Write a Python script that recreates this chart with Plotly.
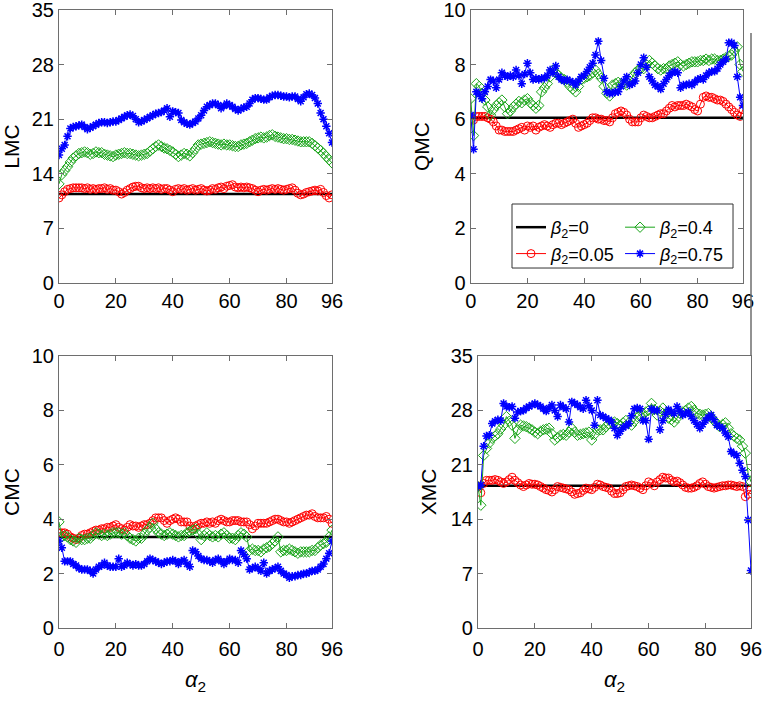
import plotly.graph_objects as go
from plotly.subplots import make_subplots

# alpha_2 values (x axis) and the beta_2 = 0 reference lines
alpha2 = list(range(97))
ref_x = [0, 96]

lmc_b0 = [11.4, 11.4]
lmc_b005 = [10.9, 11.3, 11.7, 12.0, 12.1, 12.2, 12.2, 12.2, 12.2, 12.1,
            12.2, 12.0, 12.1, 12.0, 12.1, 12.1, 12.2, 12.0, 12.1, 11.9,
            11.9, 11.7, 11.4, 11.6, 11.9, 12.1, 12.3, 12.4, 12.4, 12.2,
            12.1, 12.2, 12.1, 12.2, 12.1, 12.2, 12.0, 12.1, 12.1, 11.9,
            11.7, 12.0, 12.1, 12.0, 12.1, 11.9, 12.0, 12.1, 11.9, 12.0,
            12.1, 11.9, 11.8, 11.9, 12.1, 12.0, 12.2, 12.3, 12.1, 12.4,
            12.5, 12.6, 12.3, 12.2, 12.3, 12.2, 12.3, 12.2, 12.1, 11.9,
            11.7, 11.9, 12.0, 11.9, 12.0, 12.1, 12.0, 12.1, 12.0, 11.9,
            12.0, 12.1, 12.2, 11.9, 11.5, 11.3, 11.4, 11.6, 11.7, 11.8,
            11.9, 11.8, 12.0, 11.6, 11.2, 10.9, 11.3]
lmc_b04 = [12.7, 13.9, 14.4, 14.9, 15.5, 16.0, 16.3, 16.6, 16.7, 16.8,
           16.7, 16.5, 16.6, 16.8, 16.7, 16.7, 16.5, 16.4, 16.3, 16.2,
           16.4, 16.5, 16.6, 16.7, 16.6, 16.6, 16.5, 16.4, 16.3, 16.4,
           16.5, 16.6, 16.9, 17.2, 17.5, 17.7, 17.5, 17.3, 17.2, 17.0,
           16.8, 16.5, 16.2, 16.4, 16.6, 16.5, 16.3, 16.7, 17.2, 17.7,
           17.8, 17.9, 18.0, 18.1, 18.0, 17.9, 17.8, 17.7, 17.8, 17.7,
           17.7, 17.6, 17.5, 17.5, 17.7, 17.8, 17.9, 18.1, 18.3, 18.5,
           18.6, 18.7, 18.6, 18.7, 18.9, 19.0, 18.8, 18.7, 18.6, 18.5,
           18.5, 18.4, 18.4, 18.3, 18.2, 18.1, 18.1, 18.1, 18.1, 17.9,
           17.6, 17.3, 17.0, 16.6, 16.2, 15.8, 15.4]
lmc_b075 = [16.4, 17.2, 17.7, 18.8, 19.8, 20.0, 20.1, 20.2, 20.3, 20.0,
            19.7, 19.9, 20.1, 20.3, 20.5, 20.6, 20.6, 20.5, 20.6, 20.7,
            20.7, 20.9, 21.1, 21.3, 21.5, 21.6, 21.4, 21.0, 20.6, 20.7,
            20.9, 21.1, 21.3, 21.5, 21.7, 21.8, 21.9, 22.1, 22.4, 21.3,
            22.0, 21.9, 21.8, 20.9, 20.6, 20.4, 20.3, 20.5, 20.7, 21.1,
            21.5, 22.1, 22.6, 22.8, 23.0, 23.0, 22.8, 22.4, 22.7, 23.0,
            22.8, 22.6, 22.3, 22.1, 22.3, 22.5, 22.6, 23.0, 23.5, 23.7,
            23.7, 23.6, 23.5, 23.5, 23.8, 24.0, 24.1, 24.1, 24.0, 23.9,
            23.9, 23.8, 23.9, 23.9, 23.6, 23.3, 23.8, 24.2, 24.3, 24.1,
            23.7, 23.0, 21.8, 21.0, 20.1, 19.2, 18.0]

qmc_b0 = [6.05, 6.05]
qmc_b005 = [6.0, 5.97, 6.1, 6.1, 6.1, 6.1, 6.05, 6.0, 5.9, 5.75,
            5.6, 5.6, 5.55, 5.55, 5.55, 5.55, 5.6, 5.65, 5.7, 5.6,
            5.75, 5.7, 5.75, 5.6, 5.7, 5.75, 5.8, 5.75, 5.7, 5.8,
            5.85, 5.85, 5.8, 5.85, 5.9, 5.95, 6.0, 5.85, 5.7, 5.75,
            5.8, 5.85, 5.95, 6.05, 6.05, 6.0, 6.0, 5.95, 5.95, 5.9,
            6.05, 6.2, 6.25, 6.3, 6.25, 6.15, 6.0, 5.9, 5.9, 5.9,
            6.05, 6.15, 6.1, 6.05, 6.05, 6.1, 6.15, 6.2, 6.2, 6.3,
            6.4, 6.5, 6.45, 6.5, 6.5, 6.5, 6.55, 6.5, 6.45, 6.35,
            6.3, 6.55, 6.8, 6.85, 6.8, 6.8, 6.75, 6.7, 6.7, 6.65,
            6.55, 6.45, 6.35, 6.25, 6.15, 6.1, 6.35]
qmc_b04 = [6.75, 5.4, 7.3, 7.2, 6.95, 6.7, 6.45, 6.15, 6.35, 6.5,
           6.6, 6.7, 6.45, 6.2, 6.3, 6.45, 6.55, 6.65, 6.6, 6.7,
           6.75, 6.6, 6.5, 6.4, 6.5, 7.0, 7.15, 7.3, 7.55, 7.8,
           7.7, 7.6, 7.5, 7.45, 7.35, 7.2, 7.1, 7.0, 7.2, 7.45,
           7.5, 7.55, 7.6, 7.7, 7.8, 7.65, 7.5, 7.2, 6.95, 6.85,
           7.25, 7.3, 7.35, 7.3, 7.3, 7.25, 7.4, 7.55, 7.7, 7.8,
           7.85, 7.85, 8.0, 8.15, 8.05, 7.95, 7.85, 7.8, 7.85, 7.85,
           7.95, 8.0, 8.05, 8.1, 8.0, 7.95, 8.0, 8.05, 8.1, 8.1,
           8.1, 8.15, 8.15, 8.2, 8.15, 8.2, 8.2, 8.15, 8.15, 8.2,
           8.25, 8.3, 8.35, 8.5, 8.65, 8.0, 7.75]
qmc_b075 = [6.15, 4.9, 7.0, 6.9, 6.75, 7.0, 7.2, 7.45, 7.4, 7.15,
            7.45, 7.7, 7.6, 7.55, 7.6, 7.55, 7.8, 7.6, 7.3, 7.65,
            8.05, 7.7, 7.45, 7.5, 7.45, 7.5, 7.5, 7.6, 7.8, 7.7,
            7.95, 7.55, 7.45, 7.4, 7.45, 7.4, 7.35, 7.25, 7.4, 7.55,
            7.6, 7.75, 7.9, 8.05, 8.35, 8.85, 8.15, 7.5, 7.0, 6.95,
            6.95, 7.0, 7.0, 7.2, 7.4, 7.55, 7.25, 7.3, 7.4, 7.7,
            8.0, 8.25, 7.9, 7.55, 7.4, 7.25, 7.2, 7.1, 7.3, 7.45,
            7.6, 7.7, 7.75, 7.7, 7.15, 7.25, 7.25, 7.3, 7.25, 7.35,
            7.45, 7.5, 7.45, 7.6, 7.7, 7.75, 7.75, 7.85, 8.0, 8.1,
            8.2, 8.8, 8.8, 8.7, 7.55, 6.8, 6.5]

cmc_b0 = [3.35, 3.35]
cmc_b005 = [3.5, 3.5, 3.5, 3.45, 3.35, 3.3, 3.25, 3.3, 3.4, 3.45,
            3.45, 3.5, 3.55, 3.6, 3.6, 3.65, 3.65, 3.7, 3.7, 3.75,
            3.8, 3.7, 3.65, 3.6, 3.7, 3.8, 3.75, 3.75, 3.7, 3.75,
            3.8, 3.8, 3.85, 3.95, 4.05, 4.05, 4.05, 3.95, 3.85, 3.95,
            4.0, 4.05, 4.0, 3.9, 3.9, 3.9, 3.75, 3.65, 3.75, 3.8,
            3.85, 3.85, 3.9, 3.85, 3.9, 3.85, 3.95, 4.0, 3.95, 3.9,
            3.9, 3.95, 3.95, 3.95, 3.9, 3.9, 3.9, 3.8, 3.65, 3.75,
            3.85, 3.85, 3.85, 3.85, 3.9, 3.95, 4.0, 4.0, 3.95, 3.9,
            3.9, 3.85, 3.9, 3.95, 4.0, 4.05, 4.1, 4.15, 4.15, 4.2,
            4.1, 4.05, 4.05, 4.05, 4.1, 4.0, 3.85]
cmc_b04 = [3.9, 3.35, 3.4, 3.35, 3.25, 3.2, 3.15, 3.3, 3.25, 3.25,
           3.3, 3.3, 3.4, 3.5, 3.45, 3.4, 3.45, 3.4, 3.45, 3.5,
           3.5, 3.5, 3.45, 3.5, 3.4, 3.3, 3.25, 3.2, 3.3, 3.3,
           3.45, 3.6, 3.7, 3.85, 3.65, 3.5, 3.45, 3.4, 3.45, 3.5,
           3.45, 3.4, 3.35, 3.4, 3.4, 3.5, 3.55, 3.6, 3.65, 3.45,
           3.25, 3.4, 3.5, 3.4, 3.35, 3.4, 3.35, 3.45, 3.5, 3.4,
           3.3, 3.3, 3.25, 3.4, 3.5, 3.45, 3.35, 2.85, 2.9, 2.85,
           2.85, 2.8, 2.9, 2.95, 3.0, 3.1, 3.2, 3.35, 2.8, 2.85,
           2.85, 2.9, 2.85, 2.8, 2.75, 2.8, 2.8, 2.8, 2.8, 2.85,
           2.85, 2.95, 3.05, 3.1, 3.15, 3.35, 3.6]
cmc_b075 = [3.2, 2.95, 2.45, 2.45, 2.45, 2.35, 2.3, 2.2, 2.15, 2.15,
            2.15, 2.1, 2.0, 2.15, 2.25, 2.3, 2.4, 2.3, 2.25, 2.25,
            2.25, 2.55, 2.25, 2.3, 2.4, 2.35, 2.3, 2.35, 2.3, 2.3,
            2.35, 2.45, 2.55, 2.5, 2.45, 2.4, 2.35, 2.4, 2.45, 2.45,
            2.5, 2.45, 2.35, 2.45, 2.5, 2.35, 2.25, 2.85, 2.8, 2.65,
            2.55, 2.5, 2.5, 2.45, 2.4, 2.5, 2.55, 2.45, 2.35, 2.45,
            2.55, 2.5, 2.5, 2.4, 2.85, 2.7, 2.55, 2.15, 2.2, 2.25,
            2.2, 2.1, 2.4, 2.0, 2.1, 2.15, 2.2, 2.25, 2.1, 2.0,
            1.95, 1.85, 1.9, 1.9, 1.95, 1.95, 2.0, 2.0, 2.05, 2.1,
            2.1, 2.15, 2.25, 2.35, 2.55, 2.75, 3.2]

xmc_b0 = [18.3, 18.3]
xmc_b005 = [18.2, 17.4, 18.6, 19.0, 19.0, 19.0, 19.1, 19.0, 18.8, 18.6,
            18.8, 19.1, 19.4, 19.0, 18.7, 18.4, 18.2, 18.4, 18.6, 18.5,
            18.5, 18.4, 18.2, 18.0, 17.8, 17.7, 17.5, 17.8, 18.2, 18.1,
            18.0, 17.9, 17.8, 17.5, 17.2, 17.3, 17.4, 17.7, 18.0, 17.9,
            17.8, 18.1, 18.5, 18.4, 18.2, 18.1, 18.0, 17.6, 17.3, 17.3,
            17.4, 17.8, 18.2, 18.3, 18.4, 18.3, 18.2, 18.0, 17.8, 18.3,
            18.8, 18.6, 18.3, 18.8, 19.1, 19.4, 19.3, 19.3, 19.0, 18.8,
            18.9, 18.7, 18.4, 18.1, 18.0, 18.0, 18.1, 18.3, 18.6, 18.8,
            18.5, 18.2, 18.1, 18.0, 18.1, 18.2, 18.3, 18.3, 18.4, 18.4,
            18.3, 18.2, 18.3, 18.2, 16.9, 17.2, 17.8]
xmc_b04 = [18.2, 15.8, 22.2, 23.1, 23.8, 24.4, 24.7, 25.0, 25.6, 26.1,
           27.2, 26.6, 26.1, 24.4, 25.5, 26.1, 26.0, 25.9, 25.7, 25.5,
           25.2, 25.0, 25.3, 25.5, 25.6, 25.7, 25.0, 24.2, 24.5, 24.8,
           24.9, 24.8, 25.2, 25.7, 25.2, 24.8, 24.9, 25.0, 25.1, 25.2,
           24.2, 24.9, 25.5, 25.5, 25.5, 25.9, 26.3, 26.4, 26.5, 26.3,
           26.1, 26.4, 26.7, 26.4, 26.1, 26.6, 27.2, 27.4, 27.6, 27.8,
           28.0, 28.9, 28.1, 27.4, 27.9, 28.3, 27.6, 27.0, 26.8, 26.5,
           27.0, 27.6, 27.8, 28.0, 28.3, 28.5, 28.0, 27.6, 27.5, 27.4,
           27.5, 27.6, 27.1, 26.7, 26.3, 25.9, 26.2, 26.4, 25.7, 25.0,
           24.7, 24.4, 24.2, 23.4, 22.5, 19.9, 18.8]
xmc_b075 = [18.2, 18.4, 23.4, 24.7, 24.8, 26.3, 26.6, 26.8, 26.7, 28.9,
            28.5, 28.4, 28.5, 27.0, 27.8, 27.9, 28.0, 28.3, 28.5, 28.7,
            28.9, 28.7, 28.5, 28.2, 27.9, 28.3, 28.7, 28.0, 27.2, 28.7,
            28.4, 28.2, 26.5, 29.1, 28.9, 28.7, 28.4, 28.2, 29.3, 28.6,
            28.0, 26.1, 29.3, 27.4, 27.2, 27.0, 26.8, 26.5, 25.7, 24.8,
            25.3, 25.8, 26.0, 26.3, 27.3, 28.2, 28.3, 28.2, 26.7, 26.7,
            24.3, 28.2, 28.0, 28.0, 25.5, 26.7, 27.5, 28.1, 27.8, 27.6,
            28.5, 27.9, 27.4, 27.6, 27.8, 27.2, 26.7, 26.2, 25.7, 26.2,
            26.7, 27.1, 27.4, 26.8, 26.1, 25.9, 25.7, 25.1, 24.6, 22.7,
            22.4, 22.2, 21.2, 20.3, 19.5, 13.9, 7.4]

panels = [
    ("LMC", lmc_b0, lmc_b005, lmc_b04, lmc_b075, [0, 7, 14, 21, 28, 35]),
    ("QMC", qmc_b0, qmc_b005, qmc_b04, qmc_b075, [0, 2, 4, 6, 8, 10]),
    ("CMC", cmc_b0, cmc_b005, cmc_b04, cmc_b075, [0, 2, 4, 6, 8, 10]),
    ("XMC", xmc_b0, xmc_b005, xmc_b04, xmc_b075, [0, 7, 14, 21, 28, 35]),
]
x_ticks = [0, 20, 40, 60, 80, 96]

fig = make_subplots(rows=2, cols=2)

for i, (name, b0, b005, b04, b075, yt) in enumerate(panels):
    r, c = i // 2 + 1, i % 2 + 1
    show = (i == 1)
    # legend: first column (beta=0, 0.05), second column (beta=0.4, 0.75)
    fig.add_trace(go.Scatter(x=ref_x, y=b0, mode="lines", name="<i>β</i><sub>2</sub>=0",
                             line=dict(color="black", width=2.5),
                             showlegend=show, legend="legend"), row=r, col=c)
    fig.add_trace(go.Scatter(x=alpha2, y=b005, mode="lines+markers", name="<i>β</i><sub>2</sub>=0.05",
                             line=dict(color="#ff0000", width=1),
                             marker=dict(symbol="circle-open", size=8, color="#ff0000", line=dict(width=1)),
                             showlegend=show, legend="legend"), row=r, col=c)
    fig.add_trace(go.Scatter(x=alpha2, y=b04, mode="lines+markers", name="<i>β</i><sub>2</sub>=0.4",
                             line=dict(color="#1aa51a", width=1),
                             marker=dict(symbol="diamond-open", size=8, color="#1aa51a", line=dict(width=1)),
                             showlegend=show, legend="legend2"), row=r, col=c)
    fig.add_trace(go.Scatter(x=alpha2, y=b075, mode="lines+markers", name="<i>β</i><sub>2</sub>=0.75",
                             line=dict(color="#0000ff", width=1),
                             marker=dict(symbol="asterisk-open", size=7, color="#0000ff", line=dict(width=1.5)),
                             showlegend=show, legend="legend2"), row=r, col=c)
    fig.update_yaxes(range=[0, yt[-1]], tickvals=yt, title_text=name, row=r, col=c)

axis_style = dict(showline=True, linecolor="#6e6e6e", linewidth=1, mirror="ticks",
                  ticks="inside", ticklen=5, tickcolor="#6e6e6e", showgrid=False,
                  zeroline=False, automargin=False, ticklabeloverflow="allow",
                  tickfont=dict(size=20, color="black"))
fig.update_xaxes(range=[0, 96], tickvals=x_ticks, **axis_style)
fig.update_yaxes(title_font=dict(size=21, color="black"), title_standoff=8, **axis_style)
fig.update_xaxes(title_text="<i>α</i><sub>2</sub>", title_font=dict(size=22, color="black"),
                 title_standoff=12, ticklabelstandoff=3, row=2)

# subplot placement (paper fractions of the 765x702 page)
fig.update_layout(
    xaxis=dict(domain=[0.0771, 0.434]),
    xaxis2=dict(domain=[0.6153, 0.9712]),
    xaxis3=dict(domain=[0.0771, 0.434]),
    xaxis4=dict(domain=[0.6248, 0.9817]),
    yaxis=dict(domain=[0.5969, 0.9858]),
    yaxis2=dict(domain=[0.5969, 0.9858]),
    yaxis3=dict(domain=[0.1054, 0.4929]),
    yaxis4=dict(domain=[0.1054, 0.4929]),
)

# legend frame and stray vertical rule at the right edge, as in the original figure
fig.add_shape(type="rect", xref="paper", yref="paper", x0=0.6693, x1=0.9582, y0=0.6182, y1=0.7094,
              line=dict(color="#333333", width=1), fillcolor="white", layer="above")
fig.add_shape(type="line", xref="paper", yref="paper", x0=0.9817, x1=0.9817, y0=0.4929, y1=0.953,
              line=dict(color="#6e6e6e", width=1.5))

leg = dict(xanchor="left", yanchor="top", itemwidth=30, bgcolor="rgba(0,0,0,0)",
           borderwidth=0, font=dict(size=18), tracegroupgap=0, traceorder="normal")
fig.update_layout(
    width=765, height=702,
    margin=dict(l=0, r=0, t=0, b=0, autoexpand=False),
    paper_bgcolor="white", plot_bgcolor="white",
    font=dict(family="Liberation Sans, Arial, sans-serif", color="black"),
    legend=dict(x=0.668, y=0.7023, **leg),
    legend2=dict(x=0.8105, y=0.7023, **leg),
)

# drop the browser's default 8 px body margin so the figure fills the window
fig.write_html("out.html", config={"displayModeBar": False},
               post_script="document.body.style.margin = '0';")
